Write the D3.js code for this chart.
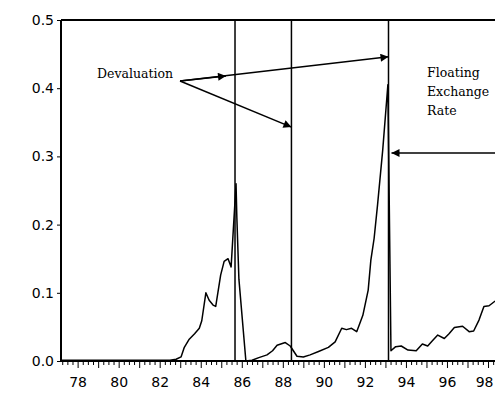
<!DOCTYPE html>
<html>
<head>
<meta charset="utf-8">
<script src="https://cdn.jsdelivr.net/npm/d3@7"></script>
<style>
  html, body { margin: 0; padding: 0; background: #fff; }
  svg { display: block; }
</style>
</head>
<body>
<svg id="chart" width="495" height="409"></svg>
<script>
// ---- data (decimal years) ----
const dates = [
  1977.2, 1978.0, 1979.0, 1980.0, 1981.0, 1982.0, 1982.5, 1982.8,
  1983.04, 1983.2, 1983.44, 1983.7, 1983.93, 1984.05, 1984.25, 1984.41,
  1984.6, 1984.73, 1984.97, 1985.14, 1985.33, 1985.48, 1985.72, 1985.76,
  1985.86, 1986.2, 1986.5, 1986.83, 1987.23, 1987.5, 1987.72, 1988.12,
  1988.36, 1988.69, 1989.0, 1989.33, 1989.74, 1990.22, 1990.55, 1990.87,
  1991.1, 1991.35, 1991.6, 1991.9, 1992.16, 1992.29, 1992.45, 1992.62,
  1992.87, 1993.12, 1993.27, 1993.5, 1993.77, 1994.1, 1994.5, 1994.8,
  1995.06, 1995.3, 1995.55, 1995.87, 1996.1, 1996.36, 1996.76, 1997.08,
  1997.3, 1997.56, 1997.8, 1998.05, 1998.35
];
const values = [
  0.001, 0.001, 0.001, 0.001, 0.001, 0.001, 0.001, 0.0025,
  0.006, 0.02, 0.032, 0.04, 0.048, 0.059, 0.10, 0.089,
  0.082, 0.080, 0.126, 0.146, 0.150, 0.138, 0.26, 0.21,
  0.12, 0.0, 0.001, 0.005, 0.009, 0.015, 0.023, 0.027,
  0.022, 0.007, 0.006, 0.009, 0.014, 0.020, 0.028, 0.048,
  0.046, 0.048, 0.043, 0.067, 0.104, 0.148, 0.18, 0.23,
  0.31, 0.405, 0.015, 0.021, 0.022, 0.016, 0.015, 0.025,
  0.022, 0.030, 0.038, 0.033, 0.040, 0.049, 0.051, 0.043,
  0.044, 0.060, 0.080, 0.081, 0.088
];
const yTicks = [0.0, 0.1, 0.2, 0.3, 0.4, 0.5];
const xTickYears = [1978, 1980, 1982, 1984, 1986, 1988, 1990, 1992, 1994, 1996, 1998];
const xTickLabels = ["78", "80", "82", "84", "86", "88", "90", "92", "94", "96", "98"];
const eventDates = [1985.67, 1988.42, 1993.15];   // vertical marker lines
const devaluationLabel = "Devaluation";
const floatingLabel = ["Floating", "Exchange", "Rate"];

// ---- scales ----
const svg = d3.select("#chart");
const x = d3.scaleLinear().domain([1977.19, 1998.34]).range([61, 495]);
const y = d3.scaleLinear().domain([0, 0.5]).range([361, 20]);

// ---- frame ----
const frame = svg.append("g").attr("stroke", "#000").attr("fill", "none");
frame.append("line").attr("x1", x(1977.19)).attr("x2", x(1977.19)).attr("y1", y(0.5)).attr("y2", y(0)).attr("stroke-width", 2);
frame.append("line").attr("x1", x(1977.19)).attr("x2", 495).attr("y1", y(0.5)).attr("y2", y(0.5)).attr("stroke-width", 2);
frame.append("line").attr("x1", x(1977.19)).attr("x2", 495).attr("y1", y(0)).attr("y2", y(0)).attr("stroke-width", 2);

// ---- y axis ----
const yAxis = d3.axisLeft(y).tickValues(yTicks).tickFormat(d3.format(".1f")).tickSize(4).tickPadding(3);
const gy = svg.append("g").attr("transform", `translate(${x(1977.19)},0)`).call(yAxis);
gy.select(".domain").remove();
gy.selectAll("line").attr("stroke", "#000");
gy.selectAll("text").attr("font-family", "DejaVu Sans, sans-serif").attr("font-size", 14).attr("fill", "#000");

// ---- x axis (minor quarterly ticks + yearly major ticks) ----
const quarters = d3.range(1977.25, 1998.5, 0.25).filter(d => x(d) > 62 && x(d) < 495 && Math.abs(d - Math.round(d)) > 0.01);
const yearsAll = d3.range(1978, 1999);
const gxMinor = svg.append("g").attr("transform", `translate(0,${y(0)})`)
  .call(d3.axisBottom(x).tickValues(quarters).tickSize(4).tickFormat(""));
gxMinor.select(".domain").remove();
const gxMajor = svg.append("g").attr("transform", `translate(0,${y(0)})`)
  .call(d3.axisBottom(x).tickValues(yearsAll).tickSize(7).tickFormat(""));
gxMajor.select(".domain").remove();
const gx = svg.append("g").attr("transform", `translate(0,${y(0)})`)
  .call(d3.axisBottom(x).tickValues(xTickYears).tickSize(0).tickPadding(16)
    .tickFormat((d, i) => xTickLabels[i]));
gx.select(".domain").remove();
gx.selectAll("text").attr("font-family", "DejaVu Sans, sans-serif").attr("font-size", 14).attr("fill", "#000");
// keep the last label inside the picture
gx.selectAll("text").filter(d => d === 1998).attr("text-anchor", "end").attr("dx", "5");
svg.selectAll(".tick line").attr("stroke", "#000");

// ---- event lines ----
svg.append("g").selectAll("line").data(eventDates).join("line")
  .attr("x1", d => x(d)).attr("x2", d => x(d))
  .attr("y1", y(0.5)).attr("y2", y(0))
  .attr("stroke", "#000").attr("stroke-width", 1.5);

// ---- series ----
const series = dates.map((d, i) => [d, values[i]]);
svg.append("path").datum(series)
  .attr("fill", "none").attr("stroke", "#000").attr("stroke-width", 1.5)
  .attr("stroke-linejoin", "round")
  .attr("d", d3.line().x(d => x(d[0])).y(d => y(d[1])));

// ---- annotations ----
const defs = svg.append("defs");
defs.append("marker").attr("id", "ah").attr("viewBox", "0 0 10 10")
  .attr("refX", 10).attr("refY", 5).attr("markerWidth", 11).attr("markerHeight", 8)
  .attr("markerUnits", "userSpaceOnUse").attr("orient", "auto")
  .append("path").attr("d", "M0,0 L10,5 L0,10 Z").attr("fill", "#000");

svg.append("text").attr("x", 97).attr("y", 78)
  .attr("font-family", "DejaVu Serif, serif").attr("font-size", 12.5).attr("fill", "#000")
  .text(devaluationLabel);

const origin = [180, 81];
const arrowTargets = [
  [x(eventDates[0]) - 9, y(0.418)],
  [x(eventDates[2]), y(0.446)],
  [x(eventDates[1]), y(0.343)]
];
svg.append("g").selectAll("line").data(arrowTargets).join("line")
  .attr("x1", origin[0]).attr("y1", origin[1])
  .attr("x2", d => d[0]).attr("y2", d => d[1])
  .attr("stroke", "#000").attr("stroke-width", 1.5)
  .attr("marker-end", "url(#ah)");

svg.append("g").selectAll("text").data(floatingLabel).join("text")
  .attr("x", 427).attr("y", (d, i) => 77 + i * 19)
  .attr("font-family", "DejaVu Serif, serif").attr("font-size", 12.5).attr("fill", "#000")
  .text(d => d);

svg.append("line")
  .attr("x1", 495).attr("y1", y(0.305)).attr("x2", x(eventDates[2]) + 3).attr("y2", y(0.305))
  .attr("stroke", "#000").attr("stroke-width", 1.5)
  .attr("marker-end", "url(#ah)");
</script>
</body>
</html>
